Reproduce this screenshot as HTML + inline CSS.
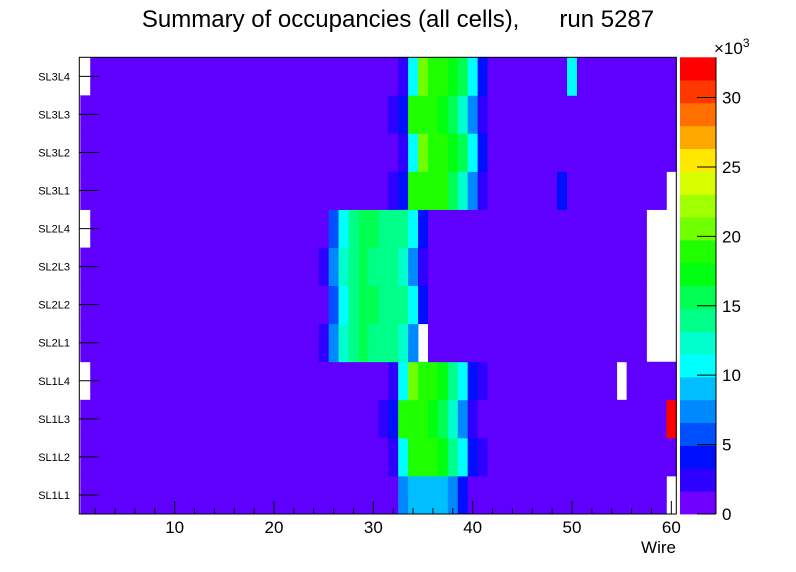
<!DOCTYPE html>
<html><head><meta charset="utf-8"><style>
body{margin:0;background:#fff;width:796px;height:572px;overflow:hidden}
svg{display:block;font-family:"Liberation Sans",sans-serif}
</style></head><body>
<svg id="c" width="796" height="572" xmlns="http://www.w3.org/2000/svg">
<text x="398" y="27" font-size="24" text-anchor="middle" style="white-space:pre" xml:space="preserve">Summary of occupancies (all cells),      run 5287</text>
<g id="cells"></g>
<g id="axes"></g>
<g id="cbar"></g>
</svg>
<script>
const rowLabels = ["SL1L1","SL1L2","SL1L3","SL1L4","SL2L1","SL2L2","SL2L3","SL2L4","SL3L1","SL3L2","SL3L3","SL3L4"];
const xTicks = [10,20,30,40,50,60];
const zTicks = [0,5,10,15,20,25,30];
const zMax = 32.9;
const baseValue = 1.0;
// non-baseline cells per row: [wire, value (x10^3)]; value 0 = empty (white)
const row0 = [[33,7.5],[34,9.2],[35,9.2],[36,9.2],[37,9.2],[38,7.5],[39,4.2],[60,0]];
const row1 = [[32,2.5],[33,10.8],[34,19],[35,19],[36,19],[37,17.4],[38,14.1],[39,10.8],[40,4.2],[41,2.5]];
const row2 = [[31,2.5],[32,4.2],[33,19],[34,19],[35,19],[36,17.4],[37,15.8],[38,12.4],[39,7.5],[40,2.5],[60,32.5]];
const row3 = [[1,0],[32,2.5],[33,10.8],[34,20.7],[35,19],[36,19],[37,17.4],[38,14.1],[39,10.8],[40,4.2],[41,2.5],[55,0]];
const row4 = [[25,2.5],[26,7.5],[27,12.4],[28,14.1],[29,15.8],[30,14.1],[31,14.1],[32,14.1],[33,12.4],[34,7.5],[35,0],[58,0],[59,0],[60,0]];
const row5 = [[26,5.8],[27,10.8],[28,14.1],[29,15.8],[30,15.8],[31,14.1],[32,14.1],[33,14.1],[34,10.8],[35,4.2],[58,0],[59,0],[60,0]];
const row6 = [[25,2.5],[26,7.5],[27,12.4],[28,14.1],[29,15.8],[30,14.1],[31,14.1],[32,14.1],[33,12.4],[34,7.5],[35,2.5],[58,0],[59,0],[60,0]];
const row7 = [[1,0],[26,5.8],[27,10.8],[28,14.1],[29,15.8],[30,15.8],[31,14.1],[32,14.1],[33,14.1],[34,10.8],[35,4.2],[58,0],[59,0],[60,0]];
const row8 = [[32,2.5],[33,4.2],[34,19],[35,19],[36,19],[37,19],[38,15.8],[39,12.4],[40,7.5],[41,2.5],[49,4.2],[60,0]];
const row9 = [[33,2.5],[34,10.8],[35,20.7],[36,19],[37,19],[38,17.4],[39,15.8],[40,10.8],[41,4.2]];
const row10 = [[32,2.5],[33,4.2],[34,19],[35,19],[36,19],[37,17.4],[38,15.8],[39,12.4],[40,7.5],[41,2.5]];
const row11 = [[1,0],[33,2.5],[34,10.8],[35,20.7],[36,19],[37,19],[38,17.4],[39,15.8],[40,10.8],[41,4.2],[50,10.8]];
const rows = [row0,row1,row2,row3,row4,row5,row6,row7,row8,row9,row10,row11];
const palette = ["#5f00ff","#2d00ff","#0010ff","#0050ff","#0088ff","#00bfff","#00ffff","#00ffcc","#00ff88","#00ff50","#00ff10","#20ff00","#70ff00","#a0ff00","#d8ff00","#ffe800","#ffa800","#ff7000","#ff3800","#ff0000"];

const NS="http://www.w3.org/2000/svg";
const X0=79.3, X1=676.3, Y0=57.3, Y1=514;
const wMin=0.4, wMax=60.5;
function xs(w){return X0+(w-wMin)/(wMax-wMin)*(X1-X0);}
const rowH=(Y1-Y0)/rowLabels.length;
function ys(r){return Y1-(r+1)*rowH;}
function colorOf(v){let b=Math.floor(v/zMax*palette.length);return palette[Math.max(0,Math.min(palette.length-1,b))];}
function mk(tag,attrs,parent){const e=document.createElementNS(NS,tag);for(const k in attrs)e.setAttribute(k,attrs[k]);parent.appendChild(e);return e;}

const cells=document.getElementById('cells');
for(let r=0;r<rows.length;r++){
  const m={};rows[r].forEach(p=>m[p[0]]=p[1]);
  for(let w=1;w<=60;w++){
    const v=(w in m)?m[w]:baseValue;
    if(v<=0)continue;
    const xa=Math.max(X0,xs(w-0.5)), xb=Math.min(X1,xs(w+0.5));
    const rc=mk('rect',{x:xa,y:ys(r),width:xb-xa+0.4,height:rowH+0.4,fill:colorOf(v)},cells);
    
    
  }
}
const ax=document.getElementById('axes');
let fr=mk('rect',{x:X0,y:Y0,width:X1-X0,height:Y1-Y0,fill:'none',stroke:'#000','stroke-width':1},ax);


for(let r=0;r<rowLabels.length;r++){
  const yc=ys(r)+rowH/2;
  mk('line',{x1:X0,x2:X0+20,y1:yc,y2:yc,stroke:'#000'},ax);
  const t=mk('text',{x:70,y:yc+4,'font-size':11,'text-anchor':'end'},ax);
  t.textContent=rowLabels[r];
  
  
}
for(let w=2;w<=60;w+=2){
  const major=w%10===0;
  mk('line',{x1:xs(w),x2:xs(w),y1:Y1,y2:Y1-(major?13:6),stroke:'#000'},ax);
}
xTicks.forEach(v=>{
  const t=mk('text',{x:xs(v),y:533,'font-size':17,'text-anchor':'middle'},ax);
  t.textContent=v;
  
  
});
let xt=mk('text',{x:676,y:553,'font-size':17,'text-anchor':'end'},ax);
xt.textContent='Wire';



const cb=document.getElementById('cbar');
const CX0=680, CX1=716;
function zs(z){return Y1-z/zMax*(Y1-Y0);}
palette.forEach((c,i)=>{
  const za=i*zMax/palette.length, zb=(i+1)*zMax/palette.length;
  const rc=mk('rect',{x:CX0,y:zs(zb),width:CX1-CX0,height:zs(za)-zs(zb)+0.4,fill:i===0?'#7000ff':c},cb);
  
  
});
mk('line',{x1:CX1,x2:CX1,y1:Y0,y2:Y1,stroke:'#000'},cb);
zTicks.forEach(z=>{
  mk('line',{x1:CX1-19,x2:CX1,y1:zs(z),y2:zs(z),stroke:'#000'},cb);
  const t=mk('text',{x:722,y:zs(z)+6,'font-size':17},cb);
  t.textContent=z;
  
  
});
let ex=mk('text',{x:714,y:54,'font-size':17},cb);
ex.innerHTML='×10<tspan font-size="12" dy="-7">3</tspan>';


</script>
</body></html>
